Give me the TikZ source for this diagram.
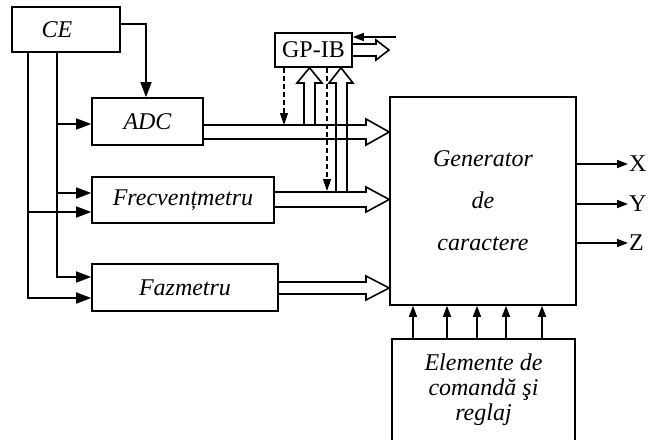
\documentclass[tikz,border=0pt]{standalone}
\usepackage{fontspec}
\setmainfont{LiberationSerif-Regular.ttf}[ItalicFont=LiberationSerif-Italic.ttf]
\usetikzlibrary{arrows.meta}

\begin{document}
\begin{tikzpicture}[x=1pt,y=-1pt,
    blok/.style={draw,line width=1.6pt,inner sep=0pt,font=\fontsize{24}{25}\selectfont\itshape},
    sig/.style={line width=1.6pt,-{Triangle[length=15pt,width=11pt]}},
    mic/.style={line width=1.6pt,-{Triangle[length=11pt,width=8pt]}},
    punct/.style={line width=1.2pt,dash pattern=on 5pt off 3pt,-{Triangle[length=12pt,width=8pt]}},
    magistrala/.style={line width=1.6pt,line join=miter}]
        \useasboundingbox (0,0) rectangle (652,439);

        % blocurile
        \node[blok,minimum width=108pt,minimum height=45pt] (ce) at (66,29.5) {\hspace*{-18pt}CE};
        \node[blok,minimum width=111pt,minimum height=47pt] (adc) at (147.5,121.5) {ADC};
        \node[blok,minimum width=182pt,minimum height=46pt] (frec) at (183,200) {Frecvențmetru};
        \node[blok,minimum width=186pt,minimum height=47pt] (faz) at (185,287.5) {Fazmetru};
        \node[blok,minimum width=77pt,minimum height=34pt,font=\fontsize{24}{25}\selectfont] (gp) at (313.5,50) {GP-IB};
        \node[blok,minimum width=186pt,minimum height=208pt,align=center,font=\fontsize{24}{42}\selectfont\itshape] (gen) at (483,201) {Generator\\de\\caractere};
        \node[blok,minimum width=183pt,minimum height=102pt,align=center] (elem) at (483.5,390) {Elemente de\\comandă şi\\reglaj};

        % iesirile
        \node[anchor=west,inner sep=1pt,font=\fontsize{24}{25}\selectfont] (x) at (628,164) {X};
        \node[anchor=west,inner sep=1pt,font=\fontsize{24}{25}\selectfont] (y) at (628,204) {Y};
        \node[anchor=west,inner sep=1pt,font=\fontsize{24}{25}\selectfont] (z) at (628,243) {Z};
        \coordinate (bus) at (396,37);

        % liniile din CE
        \coordinate (L1) at (28,0);
        \coordinate (L2) at (57,0);
        \draw[sig] (ce.east |- 0,24) -| (adc.north -| 146,0);
        \draw[sig] (ce.south -| L1) |- (faz.west |- 0,298);
        \draw[sig] (ce.south -| L2) |- (faz.west |- 0,277);
        \draw[sig] (L2 |- 0,124) -- (adc.west |- 0,124);
        \draw[sig] (L2 |- 0,193) -- (frec.west |- 0,193);
        \draw[sig] (L1 |- 0,212) -- (frec.west |- 0,212);

        % magistralele spre generator
        \draw[magistrala] (adc.east |- 0,125) -- (366,125) -- (366,119) -- (gen.west |- 0,132)
            -- (366,145) -- (366,139) -- (adc.east |- 0,139);
        \draw[magistrala] (frec.east |- 0,192) -- (366,192) -- (366,187) -- (gen.west |- 0,199.5)
            -- (366,212) -- (366,207) -- (frec.east |- 0,207);
        \draw[magistrala] (faz.east |- 0,282) -- (366,282) -- (366,276) -- (gen.west |- 0,288)
            -- (366,300) -- (366,294) -- (faz.east |- 0,294);

        % magistralele spre GP-IB
        \draw[magistrala] (304,125) -- (304,83) -- (297,83) -- (gp.south -| 309.5,0)
            -- (322,83) -- (315,83) -- (315,125);
        \draw[magistrala] (336,192) -- (336,83) -- (329,83) -- (gp.south -| 341,0)
            -- (353,83) -- (347,83) -- (347,192);
        \draw[magistrala] (gp.east |- 0,44) -- (376,44) -- (376,40) -- (389,50)
            -- (376,60) -- (376,56) -- (gp.east |- 0,56);
        \draw[mic] (bus) -- (gp.east |- 0,37);
        \draw[punct] (gp.south -| 284,0) -- (284,125);
        \draw[punct] (gp.south -| 327,0) -- (327,191);

        % iesirile X, Y, Z
        \draw[mic] (gen.east |- x.west) -- (x.west);
        \draw[mic] (gen.east |- y.west) -- (y.west);
        \draw[mic] (gen.east |- z.west) -- (z.west);

        % comenzile
        \draw[mic] (elem.north -| 413,0) -- (gen.south -| 413,0);
        \draw[mic] (elem.north -| 447,0) -- (gen.south -| 447,0);
        \draw[mic] (elem.north -| 477,0) -- (gen.south -| 477,0);
        \draw[mic] (elem.north -| 506,0) -- (gen.south -| 506,0);
        \draw[mic] (elem.north -| 542,0) -- (gen.south -| 542,0);
\end{tikzpicture}
\end{document}
